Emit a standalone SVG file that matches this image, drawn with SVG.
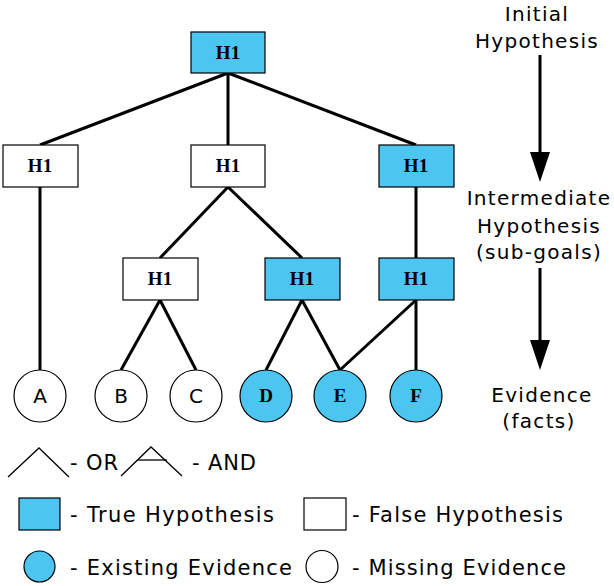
<svg xmlns="http://www.w3.org/2000/svg" width="614" height="586" viewBox="0 0 614 586">
  <style>
    .hyp { stroke: #000; stroke-width: 1.2; }
    .true { fill: #4cc6f0; }
    .false { fill: #fff; }
    .ev { stroke: #000; stroke-width: 1.2; }
    .hlabel { font-family: "Liberation Serif", "Times New Roman", serif; font-weight: bold; font-size: 19px; text-anchor: middle; fill: #000; }
    .clabel { font-family: "DejaVu Sans", Verdana, sans-serif; font-size: 20px; text-anchor: middle; fill: #000; }
    .side { font-family: "DejaVu Sans", Verdana, sans-serif; font-size: 20px; letter-spacing: 1.3px; text-anchor: middle; fill: #000; }
    .legend { font-family: "DejaVu Sans", Verdana, sans-serif; font-size: 21px; fill: #000; }
    .link { stroke: #000; stroke-width: 3; fill: none; }
    .sym { stroke: #000; stroke-width: 1.3; fill: none; }
    .flow { stroke: #000; stroke-width: 3; marker-end: url(#head); }
  </style>
  <defs>
    <marker id="head" markerWidth="30" markerHeight="20" refX="2" refY="10" orient="auto" markerUnits="userSpaceOnUse" viewBox="0 0 30 20">
      <path d="M0,0 L30,10 L0,20 Z" fill="#000"/>
    </marker>
  </defs>

  <!-- connectors between hypotheses and evidence -->
  <g id="connectors">
    <line class="link" x1="228" y1="73" x2="40" y2="145"/>
    <line class="link" x1="228" y1="73" x2="228" y2="145"/>
    <line class="link" x1="228" y1="73" x2="416" y2="145"/>
    <line class="link" x1="228" y1="187" x2="160" y2="258"/>
    <line class="link" x1="228" y1="187" x2="302" y2="258"/>
    <line class="link" x1="416" y1="187" x2="416" y2="258"/>
    <line class="link" x1="40" y1="187" x2="40" y2="370"/>
    <line class="link" x1="160" y1="300" x2="121" y2="370"/>
    <line class="link" x1="160" y1="300" x2="196" y2="370"/>
    <line class="link" x1="302" y1="300" x2="266" y2="370"/>
    <line class="link" x1="302" y1="300" x2="340" y2="370"/>
    <line class="link" x1="416" y1="300" x2="340" y2="370"/>
    <line class="link" x1="416" y1="300" x2="416" y2="370"/>
  </g>

  <!-- hypotheses -->
  <g id="h-root">
    <rect class="hyp true" x="191" y="32" width="74" height="41"/>
    <text class="hlabel" x="228" y="59">H1</text>
  </g>
  <g id="h-left">
    <rect class="hyp false" x="3" y="145" width="75" height="42"/>
    <text class="hlabel" x="40" y="172">H1</text>
  </g>
  <g id="h-mid">
    <rect class="hyp false" x="191" y="145" width="74" height="42"/>
    <text class="hlabel" x="228" y="172">H1</text>
  </g>
  <g id="h-right">
    <rect class="hyp true" x="379" y="145" width="75" height="42"/>
    <text class="hlabel" x="416" y="172">H1</text>
  </g>
  <g id="h-sub-left">
    <rect class="hyp false" x="123" y="258" width="75" height="42"/>
    <text class="hlabel" x="160" y="285">H1</text>
  </g>
  <g id="h-sub-mid">
    <rect class="hyp true" x="265" y="258" width="75" height="42"/>
    <text class="hlabel" x="302" y="285">H1</text>
  </g>
  <g id="h-sub-right">
    <rect class="hyp true" x="379" y="258" width="75" height="42"/>
    <text class="hlabel" x="416" y="285">H1</text>
  </g>

  <!-- evidence -->
  <g id="ev-a">
    <circle class="ev false" cx="40" cy="396" r="26"/>
    <text class="clabel" x="40" y="403">A</text>
  </g>
  <g id="ev-b">
    <circle class="ev false" cx="121" cy="396" r="26"/>
    <text class="clabel" x="121" y="403">B</text>
  </g>
  <g id="ev-c">
    <circle class="ev false" cx="196" cy="396" r="26"/>
    <text class="clabel" x="196" y="403">C</text>
  </g>
  <g id="ev-d">
    <circle class="ev true" cx="266" cy="396" r="26"/>
    <text class="hlabel" x="266" y="402">D</text>
  </g>
  <g id="ev-e">
    <circle class="ev true" cx="340" cy="396" r="26"/>
    <text class="hlabel" x="340" y="402">E</text>
  </g>
  <g id="ev-f">
    <circle class="ev true" cx="416" cy="396" r="26"/>
    <text class="hlabel" x="416" y="402">F</text>
  </g>

  <!-- level captions and direction arrows -->
  <g id="levels">
    <text class="side" x="537" y="21">Initial</text>
    <text class="side" x="537" y="48">Hypothesis</text>
    <line class="flow" x1="540" y1="55" x2="540" y2="154"/>
    <text class="side" x="539" y="205">Intermediate</text>
    <text class="side" x="539" y="233">Hypothesis</text>
    <text class="side" x="539" y="259">(sub-goals)</text>
    <line class="flow" x1="540" y1="268" x2="540" y2="342"/>
    <text class="side" x="542" y="402">Evidence</text>
    <text class="side" x="539" y="428">(facts)</text>
  </g>

  <!-- legend -->
  <g id="legend">
    <polyline class="sym" points="8,477 39,448 69,477"/>
    <text class="legend" x="70" y="470" textLength="48" lengthAdjust="spacing">- OR</text>
    <polyline class="sym" points="121,476 151,447 182,476"/>
    <line class="sym" x1="137" y1="460" x2="167" y2="460"/>
    <text class="legend" x="192" y="470" textLength="64" lengthAdjust="spacing">- AND</text>

    <rect class="hyp true" x="19" y="498" width="41" height="32"/>
    <text class="legend" x="70" y="522" textLength="204" lengthAdjust="spacing">- True Hypothesis</text>
    <rect class="hyp false" x="304" y="498" width="42" height="32"/>
    <text class="legend" x="352" y="522" textLength="211" lengthAdjust="spacing">- False Hypothesis</text>

    <circle class="ev true" cx="39.5" cy="566.5" r="15.5"/>
    <text class="legend" x="70" y="575" textLength="222" lengthAdjust="spacing">- Existing Evidence</text>
    <circle class="ev false" cx="322" cy="566.5" r="16"/>
    <text class="legend" x="352" y="575" textLength="214" lengthAdjust="spacing">- Missing Evidence</text>
  </g>
</svg>
